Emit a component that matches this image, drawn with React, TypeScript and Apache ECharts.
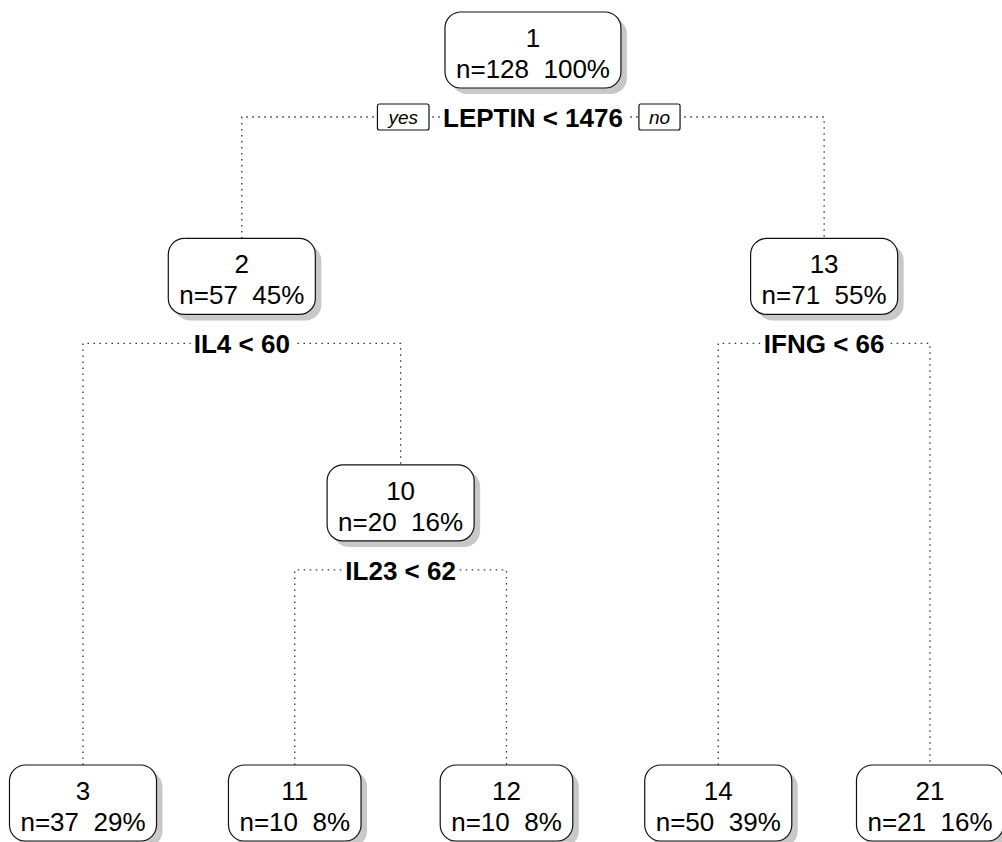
import React, { useEffect, useRef } from "react";
import * as echarts from "echarts";

// ---- Tree data (rpart-style) ----
const nodeIds = ["1", "2", "13", "10", "3", "11", "12", "14", "21"];
const nodeN = [128, 57, 71, 20, 37, 10, 10, 50, 21];
const nodePct = [100, 45, 55, 16, 29, 8, 8, 39, 16];
// layout: leaf order position and depth level (leaves drawn at the bottom)
const nodeX = [2.125, 0.75, 3.5, 1.5, 0, 1, 2, 3, 4];
const nodeDepth = [0, 1, 1, 2, 3.325, 3.325, 3.325, 3.325, 3.325];

const splitNode = ["1", "2", "13", "10"];
const splitLabels = ["LEPTIN < 1476", "IL4 < 60", "IFNG < 66", "IL23 < 62"];
const splitLeft = ["2", "3", "14", "11"];
const splitRight = ["13", "10", "21", "12"];
const branchLabels = ["yes", "no"];

const FAMILY = "'Liberation Sans', Arial, Helvetica, sans-serif";
const NODE_FONT = `26px ${FAMILY}`;
const SPLIT_FONT = `bold 26px ${FAMILY}`;
const BRANCH_FONT = `italic 19px ${FAMILY}`;

let measureCtx: CanvasRenderingContext2D | null = null;
function textWidth(text: string, font: string): number {
  if (!measureCtx) measureCtx = document.createElement("canvas").getContext("2d");
  if (!measureCtx) return text.length * 12;
  measureCtx.font = font;
  return measureCtx.measureText(text).width;
}

const BOX_H = 76;
const idx = (id: string) => nodeIds.indexOf(id);

export default function App() {
  const ref = useRef<HTMLDivElement>(null);

  useEffect(() => {
    if (!ref.current) return;
    const chart = echarts.init(ref.current, undefined, { renderer: "svg" });

    const nodeData = nodeIds.map((_, i) => [nodeX[i], nodeDepth[i], i]);
    const splitData = splitNode.map((id, s) => [nodeX[idx(id)], nodeDepth[idx(id)], s]);

    const option: any = {
      animation: false,
      backgroundColor: "#ffffff",
      grid: { left: 83, right: 72, top: 50, bottom: 39 },
      xAxis: { type: "value", min: 0, max: 4, show: false },
      yAxis: { type: "value", min: 0, max: 3.325, inverse: true, show: false },
      series: [
        {
          type: "custom",
          name: "splits",
          clip: false,
          z: 1,
          data: splitData,
          renderItem: (_params: any, api: any) => {
            const s = api.value(2);
            const p = idx(splitNode[s]);
            const l = idx(splitLeft[s]);
            const r = idx(splitRight[s]);
            const pc = api.coord([nodeX[p], nodeDepth[p]]);
            const lc = api.coord([nodeX[l], nodeDepth[l]]);
            const rc = api.coord([nodeX[r], nodeDepth[r]]);
            const sy = pc[1] + 67;
            const children: any[] = [
              {
                type: "polyline",
                shape: {
                  points: [
                    [lc[0], lc[1] - BOX_H / 2],
                    [lc[0], sy],
                    [rc[0], sy],
                    [rc[0], rc[1] - BOX_H / 2],
                  ],
                },
                style: { fill: null, stroke: "#333", lineWidth: 1.3, lineDash: [1.5, 4.5] },
              },
            ];
            const label = splitLabels[s];
            const lw = textWidth(label, SPLIT_FONT);
            children.push({
              type: "rect",
              shape: { x: pc[0] - lw / 2 - 3, y: sy - 14, width: lw + 6, height: 28 },
              style: { fill: "#fff" },
            });
            children.push({
              type: "text",
              style: {
                text: label,
                x: pc[0],
                y: sy + 1,
                font: SPLIT_FONT,
                fill: "#000",
                align: "center",
                verticalAlign: "middle",
              },
            });
            if (s === 0) {
              const yw = textWidth(branchLabels[0], BRANCH_FONT) + 22;
              const nw = textWidth(branchLabels[1], BRANCH_FONT) + 20;
              const yRight = pc[0] - lw / 2 - 14;
              const nLeft = pc[0] + lw / 2 + 16;
              children.push(
                {
                  type: "rect",
                  shape: { x: yRight - yw, y: sy - 13, width: yw, height: 26, r: 2 },
                  style: { fill: "#fff", stroke: "#111", lineWidth: 1.2 },
                },
                {
                  type: "text",
                  style: {
                    text: branchLabels[0],
                    x: yRight - yw / 2,
                    y: sy,
                    font: BRANCH_FONT,
                    fill: "#000",
                    align: "center",
                    verticalAlign: "middle",
                  },
                },
                {
                  type: "rect",
                  shape: { x: nLeft, y: sy - 13, width: nw, height: 26, r: 2 },
                  style: { fill: "#fff", stroke: "#111", lineWidth: 1.2 },
                },
                {
                  type: "text",
                  style: {
                    text: branchLabels[1],
                    x: nLeft + nw / 2,
                    y: sy,
                    font: BRANCH_FONT,
                    fill: "#000",
                    align: "center",
                    verticalAlign: "middle",
                  },
                }
              );
            }
            return { type: "group", children };
          },
        },
        {
          type: "custom",
          name: "nodes",
          clip: false,
          z: 2,
          data: nodeData,
          renderItem: (_params: any, api: any) => {
            const i = api.value(2);
            const c = api.coord([api.value(0), api.value(1)]);
            const line2 = `n=${nodeN[i]}  ${nodePct[i]}%`;
            const w = Math.max(textWidth(line2, NODE_FONT), textWidth(nodeIds[i], NODE_FONT)) + 22;
            const x0 = c[0] - w / 2;
            const y0 = c[1] - BOX_H / 2;
            return {
              type: "group",
              children: [
                {
                  type: "rect",
                  shape: { x: x0 + 6, y: y0 + 6, width: w, height: BOX_H, r: 16 },
                  style: { fill: "#c8c8c8" },
                },
                {
                  type: "rect",
                  shape: { x: x0, y: y0, width: w, height: BOX_H, r: 16 },
                  style: { fill: "#fff", stroke: "#111", lineWidth: 1.2 },
                },
                {
                  type: "text",
                  style: {
                    text: nodeIds[i],
                    x: c[0],
                    y: c[1] - 12,
                    font: NODE_FONT,
                    fill: "#000",
                    align: "center",
                    verticalAlign: "middle",
                  },
                },
                {
                  type: "text",
                  style: {
                    text: line2,
                    x: c[0],
                    y: c[1] + 19,
                    font: NODE_FONT,
                    fill: "#000",
                    align: "center",
                    verticalAlign: "middle",
                  },
                },
              ],
            };
          },
        },
      ],
    };

    chart.setOption(option);
    return () => chart.dispose();
  }, []);

  return (
    <div
      ref={ref}
      style={{ position: "absolute", left: 0, top: 0, width: 1002, height: 842 }}
    />
  );
}
